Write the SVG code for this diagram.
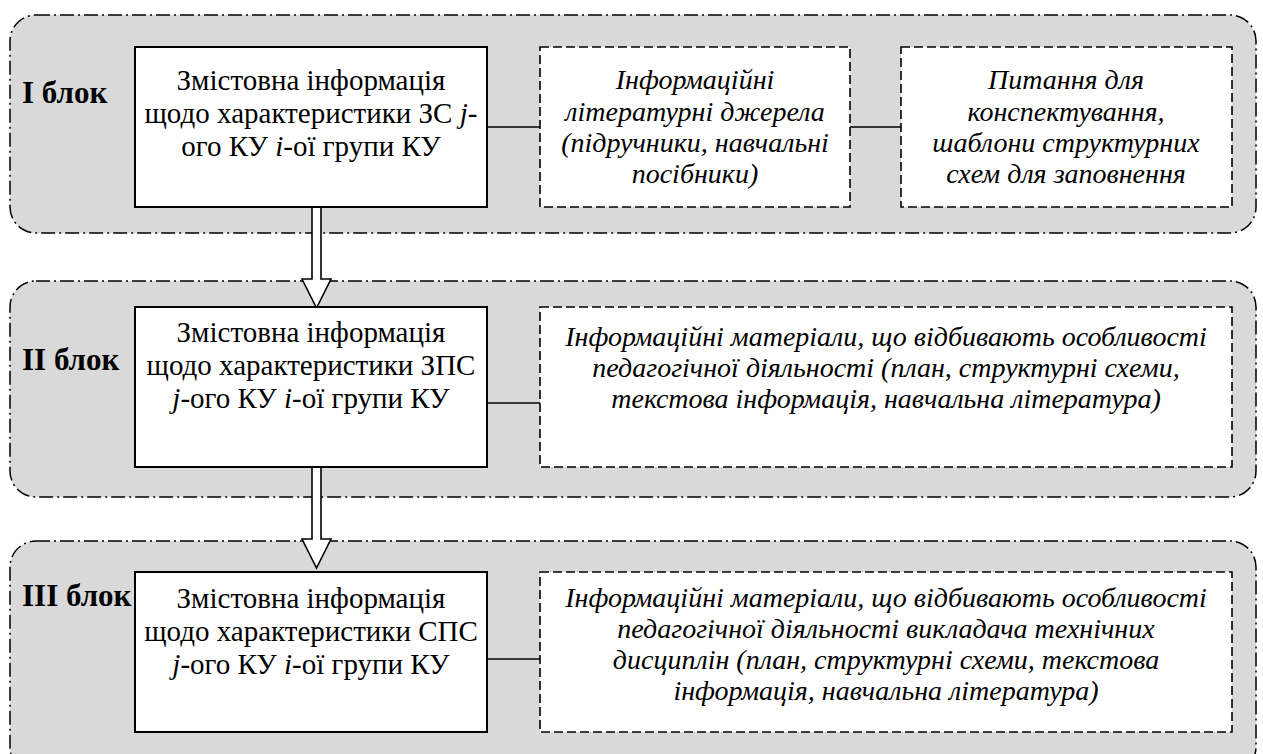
<svg xmlns="http://www.w3.org/2000/svg" width="1263" height="754" viewBox="0 0 1263 754" font-family="Liberation Serif">
  <defs>
    <!-- shared hollow block-arrow shape, placed with x/y -->
    <polygon id="down-arrow" points="-4.5,0 4.5,0 4.5,72 14.5,72 0,101 -14.5,72 -4.5,72" fill="#fff" stroke="#000" stroke-width="1.6"/>
  </defs>

  <!-- block backgrounds with their labels -->
  <g id="block1">
    <rect x="10" y="15" width="1246" height="218" rx="26" ry="26" fill="#d9d9d9" stroke="#000" stroke-width="1.5" stroke-dasharray="14 4 2 4"/>
    <text x="22" y="103" font-family="Liberation Serif" font-size="31" font-weight="bold">I блок</text>
  </g>
  <g id="block2">
    <rect x="10" y="281" width="1246" height="216" rx="26" ry="26" fill="#d9d9d9" stroke="#000" stroke-width="1.5" stroke-dasharray="14 4 2 4"/>
    <text x="22" y="370" font-family="Liberation Serif" font-size="31" font-weight="bold">II блок</text>
  </g>
  <g id="block3">
    <rect x="10" y="541" width="1246" height="232" rx="26" ry="26" fill="#d9d9d9" stroke="#000" stroke-width="1.5" stroke-dasharray="14 4 2 4"/>
    <text x="22" y="606" font-family="Liberation Serif" font-size="31" font-weight="bold">III блок</text>
  </g>

  <!-- connectors -->
  <g id="connectors" stroke="#000" stroke-width="1.6" fill="none">
    <line x1="487" y1="127" x2="540" y2="127"/>
    <line x1="850" y1="127" x2="901" y2="127"/>
    <line x1="487" y1="403" x2="540" y2="403"/>
    <line x1="487" y1="659" x2="540" y2="659"/>
    <use href="#down-arrow" x="316.5" y="207"/>
    <use href="#down-arrow" x="316.5" y="467"/>
  </g>

  <!-- block I nodes -->
  <g id="content1">
    <rect x="135" y="47" width="352" height="160" fill="#fff" stroke="#000" stroke-width="2"/>
    <text x="311" y="90" text-anchor="middle" font-family="Liberation Serif" font-size="29">Змістовна інформація</text>
    <text x="311" y="123" text-anchor="middle" font-family="Liberation Serif" font-size="29">щодо характеристики ЗС <tspan font-style="italic">j</tspan>-</text>
    <text x="311" y="156" text-anchor="middle" font-family="Liberation Serif" font-size="29">ого КУ <tspan font-style="italic">i</tspan>-ої групи КУ</text>
  </g>
  <g id="sources1">
    <rect x="540" y="47" width="310" height="160" fill="#fff" stroke="#000" stroke-width="1.6" stroke-dasharray="9 4"/>
    <text x="695" y="89" text-anchor="middle" font-family="Liberation Serif" font-size="28" font-style="italic">Інформаційні</text>
    <text x="695" y="121" text-anchor="middle" font-family="Liberation Serif" font-size="28" font-style="italic">літературні джерела</text>
    <text x="695" y="152" text-anchor="middle" font-family="Liberation Serif" font-size="28" font-style="italic">(підручники, навчальні</text>
    <text x="695" y="183" text-anchor="middle" font-family="Liberation Serif" font-size="28" font-style="italic">посібники)</text>
  </g>
  <g id="questions1">
    <rect x="901" y="47" width="331" height="160" fill="#fff" stroke="#000" stroke-width="1.6" stroke-dasharray="9 4"/>
    <text x="1066" y="89" text-anchor="middle" font-family="Liberation Serif" font-size="28" font-style="italic">Питання для</text>
    <text x="1066" y="121" text-anchor="middle" font-family="Liberation Serif" font-size="28" font-style="italic">конспектування,</text>
    <text x="1066" y="152" text-anchor="middle" font-family="Liberation Serif" font-size="28" font-style="italic">шаблони структурних</text>
    <text x="1066" y="183" text-anchor="middle" font-family="Liberation Serif" font-size="28" font-style="italic">схем для заповнення</text>
  </g>

  <!-- block II nodes -->
  <g id="content2">
    <rect x="135" y="307" width="352" height="160" fill="#fff" stroke="#000" stroke-width="2"/>
    <text x="311" y="342" text-anchor="middle" font-family="Liberation Serif" font-size="29">Змістовна інформація</text>
    <text x="311" y="375" text-anchor="middle" font-family="Liberation Serif" font-size="29">щодо характеристики ЗПС</text>
    <text x="311" y="408" text-anchor="middle" font-family="Liberation Serif" font-size="29"><tspan font-style="italic">j</tspan>-ого КУ <tspan font-style="italic">i</tspan>-ої групи КУ</text>
  </g>
  <g id="materials2">
    <rect x="540" y="307" width="692" height="160" fill="#fff" stroke="#000" stroke-width="1.6" stroke-dasharray="9 4"/>
    <text x="886" y="346" text-anchor="middle" font-family="Liberation Serif" font-size="28" font-style="italic">Інформаційні матеріали, що відбивають особливості</text>
    <text x="886" y="377" text-anchor="middle" font-family="Liberation Serif" font-size="28" font-style="italic">педагогічної діяльності (план, структурні схеми,</text>
    <text x="886" y="408" text-anchor="middle" font-family="Liberation Serif" font-size="28" font-style="italic">текстова інформація, навчальна література)</text>
  </g>

  <!-- block III nodes -->
  <g id="content3">
    <rect x="135" y="572" width="352" height="160" fill="#fff" stroke="#000" stroke-width="2"/>
    <text x="311" y="608" text-anchor="middle" font-family="Liberation Serif" font-size="29">Змістовна інформація</text>
    <text x="311" y="641" text-anchor="middle" font-family="Liberation Serif" font-size="29">щодо характеристики СПС</text>
    <text x="311" y="674" text-anchor="middle" font-family="Liberation Serif" font-size="29"><tspan font-style="italic">j</tspan>-ого КУ <tspan font-style="italic">i</tspan>-ої групи КУ</text>
  </g>
  <g id="materials3">
    <rect x="540" y="572" width="692" height="160" fill="#fff" stroke="#000" stroke-width="1.6" stroke-dasharray="9 4"/>
    <text x="886" y="607" text-anchor="middle" font-family="Liberation Serif" font-size="28" font-style="italic">Інформаційні матеріали, що відбивають особливості</text>
    <text x="886" y="638" text-anchor="middle" font-family="Liberation Serif" font-size="28" font-style="italic">педагогічної діяльності викладача технічних</text>
    <text x="886" y="669" text-anchor="middle" font-family="Liberation Serif" font-size="28" font-style="italic">дисциплін (план, структурні схеми, текстова</text>
    <text x="886" y="700" text-anchor="middle" font-family="Liberation Serif" font-size="28" font-style="italic">інформація, навчальна література)</text>
  </g>
</svg>
